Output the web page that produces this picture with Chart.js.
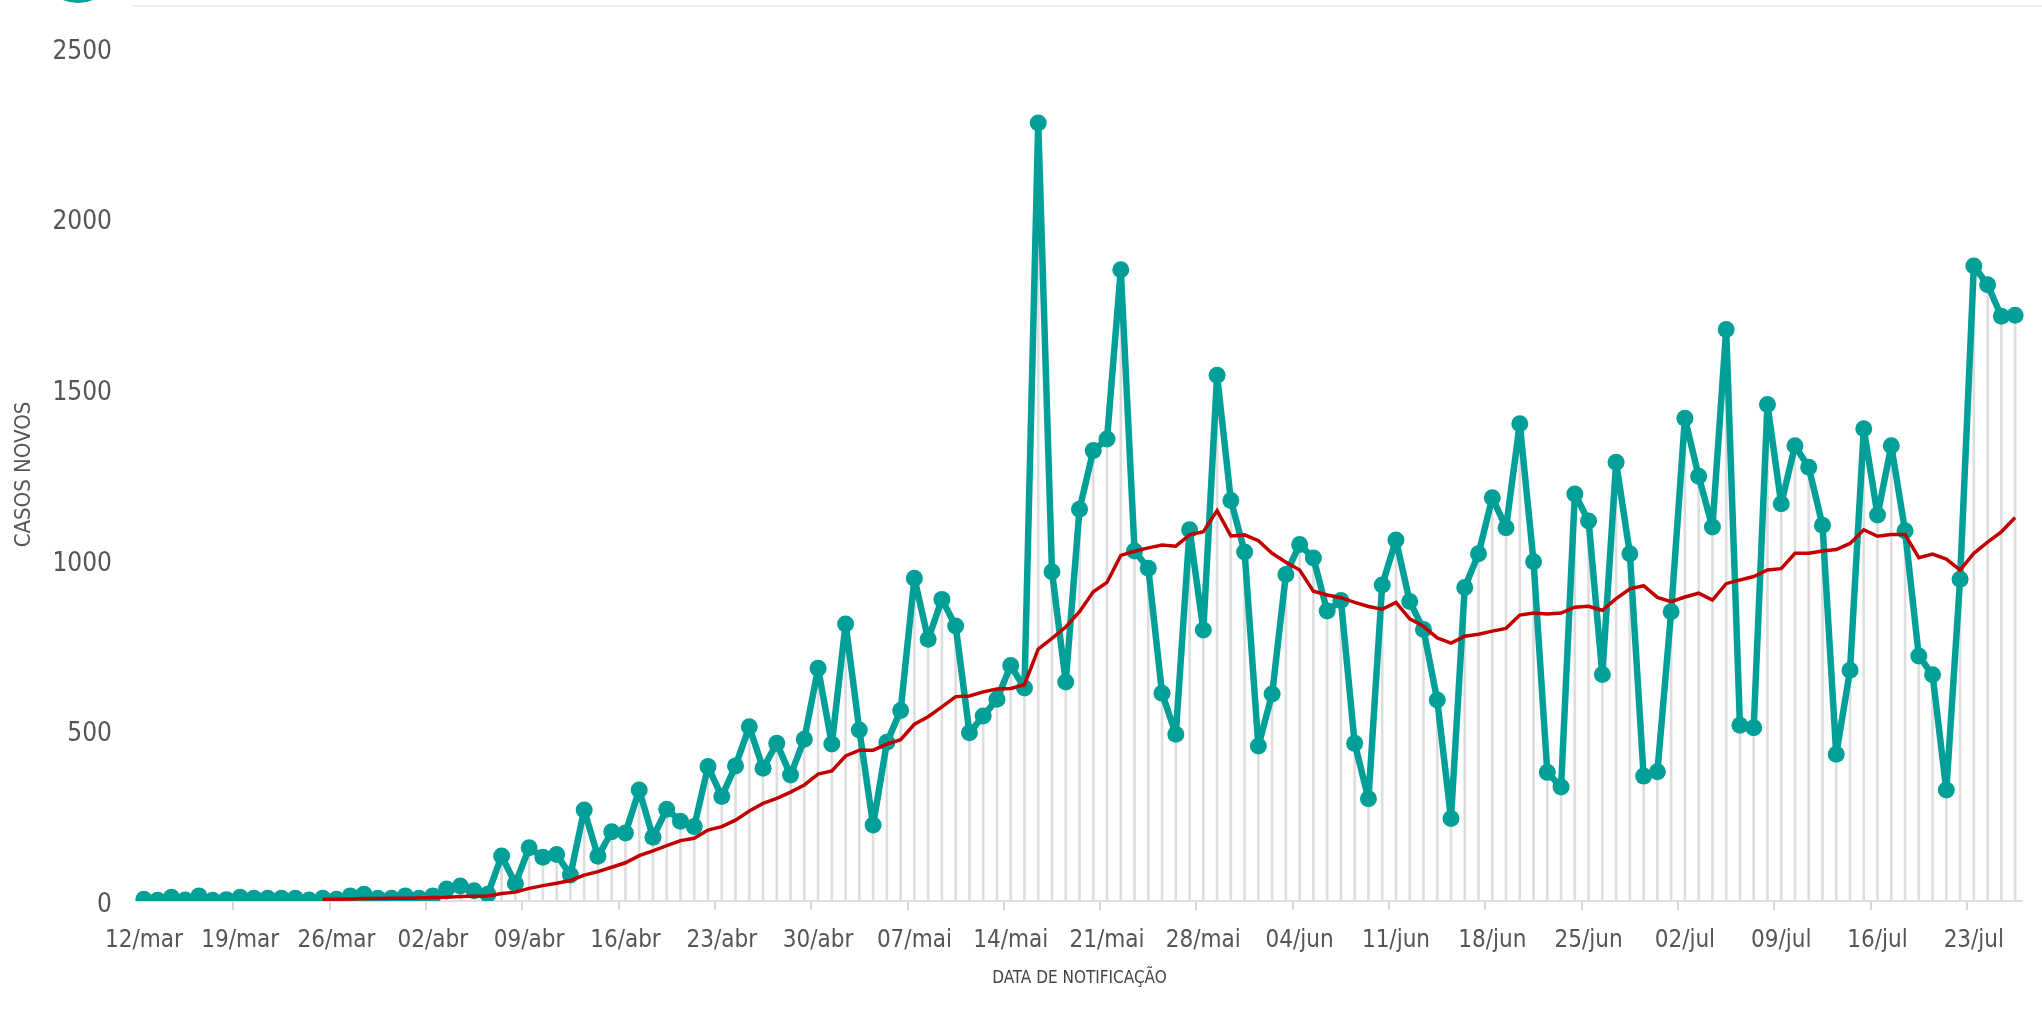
<!DOCTYPE html>
<html lang="pt">

<head>
  <meta charset="UTF-8">
  <meta name="viewport" content="width=device-width, initial-scale=1.0">
  <script src="https://cdn.jsdelivr.net/npm/chart.js"></script>
  <title>Casos novos por data de notificação</title>
  <style>
    html, body { margin: 0; padding: 0; background: #fff; }
    body { width: 2042px; height: 1022px; position: relative; overflow: hidden; }
    .badge { position: absolute; left: 38px; top: -77px; width: 80px; height: 80px; border-radius: 50%; background: #009f97; }
    .topline { position: absolute; left: 131px; right: 0; top: 5px; height: 2px; background: #f1f1f1; }
    #wrap { position: absolute; left: 0; top: 0; width: 2042px; height: 1022px; }
  </style>
</head>

<body>
  <div class="badge"></div>
  <div class="topline"></div>
  <div id="wrap"><canvas id="chart"></canvas></div>

<script>
  // dias de 12/mar a 26/jul
  const months = [['mar', 12, 31], ['abr', 1, 30], ['mai', 1, 31], ['jun', 1, 30], ['jul', 1, 26]]
  const categories = []
  months.forEach(([m, from, to]) => {
    for (let d = from; d <= to; d++) categories.push(String(d).padStart(2, '0') + '/' + m)
  })

  const tickLabels = ['12/mar', '19/mar', '26/mar', '02/abr', '09/abr', '16/abr', '23/abr', '30/abr', '07/mai',
    '14/mai', '21/mai', '28/mai', '04/jun', '11/jun', '18/jun', '25/jun', '02/jul', '09/jul', '16/jul', '23/jul']

  const newCases = [
    5, 2, 11, 3, 15, 2, 4, 11, 8, 8, 8, 8, 3, 8,
    5, 15, 20, 8, 8, 15, 8, 15, 35, 44, 30, 20, 132, 51,
    156, 128, 136, 76, 267, 131, 203, 199, 325, 187, 269, 234, 218, 394,
    306, 396, 511, 389, 462, 369, 474, 682, 460, 812, 501, 223, 465, 558,
    946, 767, 884, 806, 493, 542, 591, 690, 624, 2280, 965, 642, 1148, 1320,
    1354, 1850, 1026, 975, 609, 489, 1088, 794, 1541, 1174, 1023, 454, 607, 957,
    1045, 1005, 850, 881, 462, 300, 926, 1058, 878, 796, 589, 242, 919, 1018,
    1182, 1094, 1399, 994, 377, 334, 1193, 1114, 664, 1286, 1018, 366, 379, 848,
    1415, 1245, 1096, 1675, 515, 508, 1455, 1164, 1334, 1271, 1101, 430, 676, 1384,
    1131, 1334, 1085, 718, 663, 325, 943, 1861, 1806, 1714, 1717
  ]

  // média móvel (linha vermelha), começa em 25/mar
  const avgCases = [
    null, null, null, null, null, null, null, null, null, null, null, null, null, 5,
    5, 6, 7, 7, 8, 8, 9, 10, 11, 13, 14, 15, 22, 26,
    37, 45, 52, 60, 76, 86, 99, 112, 133, 147, 162, 177, 184, 208,
    218, 237, 264, 286, 301, 319, 340, 372, 381, 425, 442, 442, 460, 473,
    518, 540, 569, 599, 601, 613, 621, 623, 634, 738, 770, 803, 848, 906,
    934, 1013, 1025, 1035, 1043, 1040, 1073, 1082, 1144, 1070, 1073, 1056, 1019, 993,
    970, 908, 897, 889, 875, 863, 855, 875, 827, 805, 771, 756, 776, 782,
    791, 799, 838, 844, 841, 844, 861, 864, 852, 886, 915, 924, 890, 877,
    891, 902, 882, 930, 941, 951, 970, 974, 1019, 1019, 1026, 1030, 1048, 1088,
    1069, 1074, 1074, 1006, 1017, 1002, 970, 1019, 1052, 1082, 1124
  ]

  const teal = '#009f97'
  const red = '#c20000'
  const fontFamily = '"DejaVu Sans Condensed", "DejaVu Sans", sans-serif'

  const ctx = document.getElementById('chart').getContext('2d')

  new Chart(ctx, {
    type: 'bar',
    data: {
      labels: categories,
      datasets: [{
        type: 'line',
        label: 'Média móvel',
        data: avgCases,
        borderColor: red,
        borderWidth: 3.5,
        pointRadius: 0,
        tension: 0,
        order: 1,
      }, {
        type: 'line',
        label: 'Casos novos',
        data: newCases,
        borderColor: teal,
        backgroundColor: teal,
        pointBackgroundColor: teal,
        borderWidth: 6.5,
        borderJoinStyle: 'round',
        pointRadius: 8.5,
        pointBorderWidth: 0,
        tension: 0,
        order: 2,
      }, {
        type: 'bar',
        label: 'linhas',
        data: newCases,
        backgroundColor: '#dedede',
        barThickness: 2,
        order: 3,
      }]
    },
    options: {
      responsive: true,
      maintainAspectRatio: false,
      animation: false,
      layout: { padding: { top: 48, right: 20, left: 0, bottom: 0 } },
      plugins: {
        legend: { display: false },
        tooltip: { enabled: false }
      },
      scales: {
        x: {
          offset: true,
          afterFit: scale => { scale.height = 121 },
          grid: {
            offset: true,
            drawOnChartArea: false,
            tickLength: 9,
            lineWidth: 2,
            color: c => (c.index % 7 === 0 && c.index > 0) ? '#d6d6d6' : 'rgba(0,0,0,0)'
          },
          border: { display: true, color: '#dedede', width: 2 },
          ticks: {
            autoSkip: false,
            maxRotation: 0,
            padding: 16,
            color: '#555',
            font: { family: fontFamily, size: 24 },
            callback: (value, index) => index % 7 === 0 ? tickLabels[index / 7] : ''
          },
          title: {
            display: true,
            text: 'DATA DE NOTIFICAÇÃO',
            color: '#444',
            font: { family: fontFamily, size: 17 },
            padding: { top: 0, bottom: 33 }
          }
        },
        y: {
          min: 0,
          max: 2500,
          afterFit: scale => { scale.width = 137 },
          grid: { display: false, drawTicks: false },
          border: { display: false },
          ticks: {
            stepSize: 500,
            padding: 25,
            labelOffset: 4,
            color: '#555',
            font: { family: fontFamily, size: 26 },
            callback: value => String(value)
          },
          title: {
            display: true,
            text: 'CASOS NOVOS',
            color: '#555',
            font: { family: fontFamily, size: 22 },
            padding: { top: 11, bottom: 0 }
          }
        }
      }
    }
  });
</script>
</body>

</html>
